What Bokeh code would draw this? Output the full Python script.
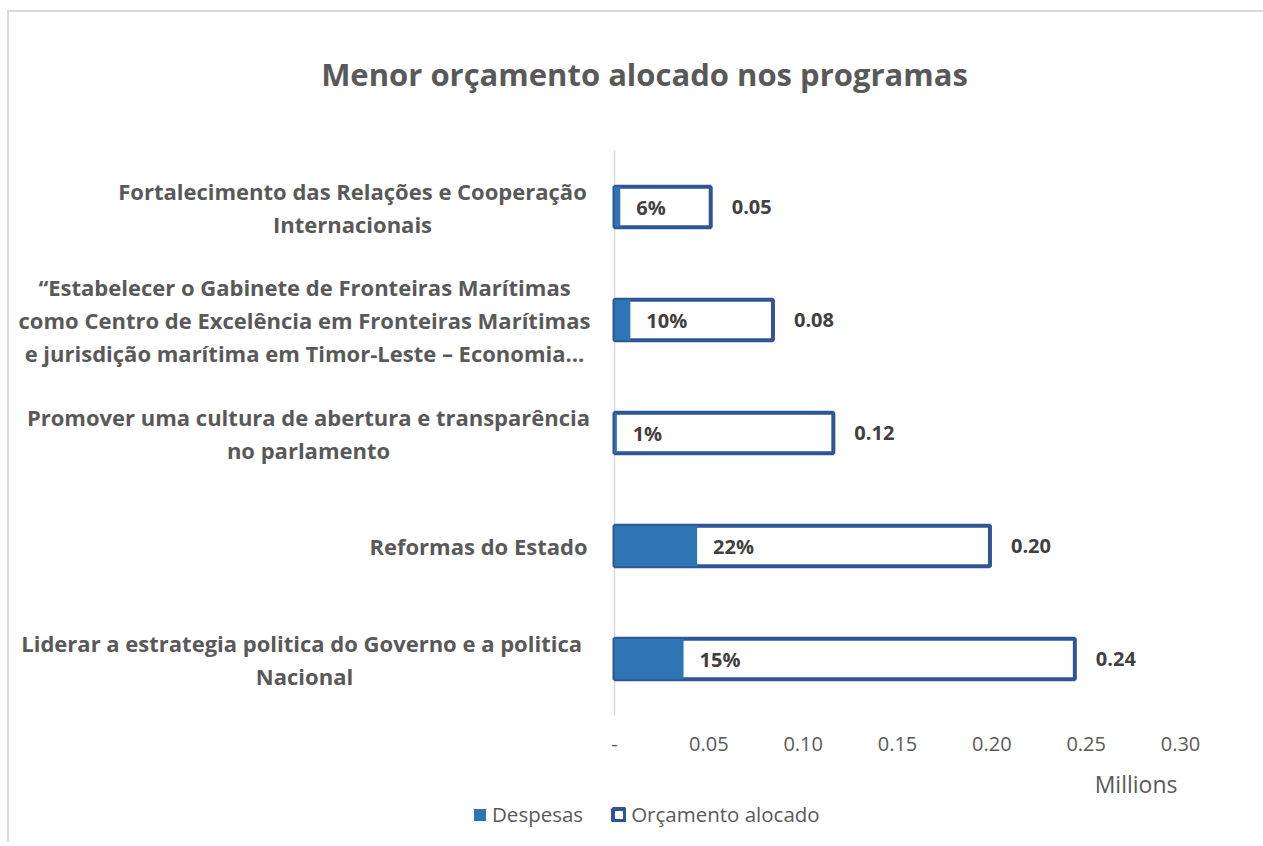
from bokeh.plotting import figure
from bokeh.layouts import column
from bokeh.models import (Range1d, FixedTicker, Label, Legend, LegendItem,
                          ColumnDataSource, PrintfTickFormatter)
from bokeh.embed import file_html
from bokeh.resources import INLINE
from bokeh.core.properties import value

chart_title = "Menor orçamento alocado nos programas"
programs = [
    "Fortalecimento das Relações e Cooperação Internacionais",
    "“Estabelecer o Gabinete de Fronteiras Marítimas como Centro de Excelência em Fronteiras Marítimas e jurisdição marítima em Timor-Leste – Economia…",
    "Promover uma cultura de abertura e transparência no parlamento",
    "Reformas do Estado",
    "Liderar a estrategia politica  do Governo e a politica Nacional",
]
program_lines = [
    ["Fortalecimento das Relações e Cooperação", "Internacionais"],
    ["“Estabelecer o Gabinete de Fronteiras Marítimas",
     "como Centro de Excelência em Fronteiras Marítimas",
     "e jurisdição marítima em Timor-Leste – Economia…"],
    ["Promover uma cultura de abertura e transparência", "no parlamento"],
    ["Reformas do Estado"],
    ["Liderar a estrategia politica  do Governo e a politica", "Nacional"],
]
budget_millions = [0.051, 0.084, 0.116, 0.199, 0.244]   # Orçamento alocado
spent_pct = [6, 10, 1, 22, 15]                           # Despesas (% of budget)
x_ticks = [0, 0.05, 0.10, 0.15, 0.20, 0.25, 0.30]
axis_unit = "Millions"
series_names = ["Despesas", "Orçamento alocado"]

# ---- layout (pixels) ----
W, H1, H2 = 1254, 752, 78
PLOT_LEFT, PLOT_RIGHT = 605, 1171      # zero line / right end of value axis
PLOT_BOTTOM = 703                      # frame bottom (from top of main canvas)
ROW_PX = 113
LABEL_CENTER_PX = [-262, -310, -306, -136, -310]   # label centre, relative to zero line
LINE_PX = 33

FONT = "Open Sans"
GRAY = "#595959"
DARK = "#404040"
FILL = "#2E75B6"
EDGE = "#2F5597"

n = len(programs)
y_pos = [n - 1 - i for i in range(n)]
spent_millions = [b * s / 100 for b, s in zip(budget_millions, spent_pct)]

src = ColumnDataSource(dict(
    y=y_pos,
    budget=budget_millions,
    spent=spent_millions,
    pct_text=[f"{v}%" for v in spent_pct],
    budget_text=[f"{v:.2f}" for v in budget_millions],
))

# category label lines
lt, ly, lyo, lxo = [], [], [], []
for i, lines in enumerate(program_lines):
    k = len(lines)
    for j, t in enumerate(lines):
        lt.append(t)
        ly.append(y_pos[i])
        lyo.append((j - (k - 1) / 2) * LINE_PX)
        lxo.append(LABEL_CENTER_PX[i])
lab_src = ColumnDataSource(dict(text=lt, y=ly, x=[0] * len(lt), yo=lyo, xo=lxo))

xmax = x_ticks[-1]
px_per_unit = (PLOT_RIGHT - PLOT_LEFT) / xmax
x_start = -PLOT_LEFT / px_per_unit
y_start = -0.5
y_end = y_start + PLOT_BOTTOM / ROW_PX

p = figure(width=W, height=H1, title=None,
           x_range=Range1d(x_start, xmax), y_range=Range1d(y_start, y_end),
           y_axis_location=None,
           output_backend="svg", toolbar_location=None,
           min_border_left=0, min_border_right=W - PLOT_RIGHT,
           min_border_top=0, min_border_bottom=H1 - PLOT_BOTTOM)
p.outline_line_color = None
p.xgrid.visible = False
p.ygrid.visible = False
p.background_fill_color = "white"
p.border_fill_color = "white"

# vertical category axis line
p.segment(x0=0, x1=0, y0=-0.5, y1=n - 0.5, line_color="#d9d9d9", line_width=1.5)

bar_budget = dict(fill_color="white", line_color=EDGE, line_width=4)
bar_spent = dict(fill_color=FILL, line_color=None)

p.hbar(y="y", left=0, right="budget", height=0.36, source=src, **bar_budget)
p.hbar(y="y", left=0, right="spent", height=0.36, source=src, **bar_spent)

p.text(x="spent", y="y", text="pct_text", x_offset=16,
       text_align="left", text_baseline="middle", text_font=value(FONT),
       text_font_style="bold", text_font_size="20px", text_color=DARK,
       source=src)
p.text(x="budget", y="y", text="budget_text", x_offset=21,
       text_align="left", text_baseline="middle", text_font=value(FONT),
       text_font_style="bold", text_font_size="20px", text_color=DARK,
       source=src)

# category labels
p.text(x="x", y="y", text="text", x_offset="xo", y_offset="yo", source=lab_src,
       text_align="center", text_baseline="middle", text_font=value(FONT),
       text_font_style="bold", text_font_size="22px", text_color=GRAY)

# title
p.add_layout(Label(x=635, y=PLOT_BOTTOM - 61, x_units="screen", y_units="screen",
                   text=chart_title, text_align="center", text_baseline="middle",
                   text_font=FONT, text_font_style="bold", text_font_size="31px",
                   text_color=GRAY))

# x axis
xa = p.xaxis[0]
xa.ticker = FixedTicker(ticks=x_ticks)
xa.formatter = PrintfTickFormatter(format="%.2f")
xa.major_label_overrides = {0: "-"}
xa.axis_line_color = None
xa.major_tick_line_color = None
xa.minor_tick_line_color = None
xa.major_tick_out = 0
xa.major_tick_in = 0
xa.major_label_standoff = 21
xa.major_label_text_font = FONT
xa.major_label_text_font_size = "20px"
xa.major_label_text_color = GRAY

# ---- bottom strip: unit label + legend ----
p2 = figure(width=W, height=H2, title=None,
            x_range=Range1d(0, 1), y_range=Range1d(0, 1),
            x_axis_location=None, y_axis_location=None,
            output_backend="svg", toolbar_location=None,
            min_border_left=0, min_border_right=0,
            min_border_top=0, min_border_bottom=0)
p2.outline_line_color = None
p2.xgrid.visible = False
p2.ygrid.visible = False
p2.background_fill_color = "white"
p2.border_fill_color = "white"

# same series as legend sources; hidden here, only their legend glyphs show
k_spent = p2.hbar(y="y", left=0, right="spent", height=0.36, source=src,
                  visible=False, **bar_spent)
k_budget = p2.hbar(y="y", left=0, right="budget", height=0.36, source=src,
                   visible=False, **bar_budget)

p2.add_layout(Label(x=1168, y=59, x_units="screen", y_units="screen",
                    text=axis_unit, text_align="right", text_baseline="middle",
                    text_font=FONT, text_font_size="23px", text_color=GRAY))

legend = Legend(items=[LegendItem(label=series_names[0], renderers=[k_spent]),
                       LegendItem(label=series_names[1], renderers=[k_budget])],
                location=(463, 14), orientation="horizontal", click_policy="none",
                border_line_color=None, background_fill_alpha=0,
                inactive_fill_alpha=0,
                padding=0, margin=0, spacing=28, glyph_width=15, glyph_height=15,
                label_standoff=5, label_height=20, label_text_font=FONT,
                label_text_font_size="20.5px", label_text_color=GRAY)
p2.add_layout(legend)

page = column(p, p2, spacing=0)
page.styles = {"margin-top": "10px", "margin-left": "7px",
               "border-top": "2px solid #d9d9d9", "border-left": "2px solid #d9d9d9"}

open("out.html", "w").write(file_html(page, INLINE))
